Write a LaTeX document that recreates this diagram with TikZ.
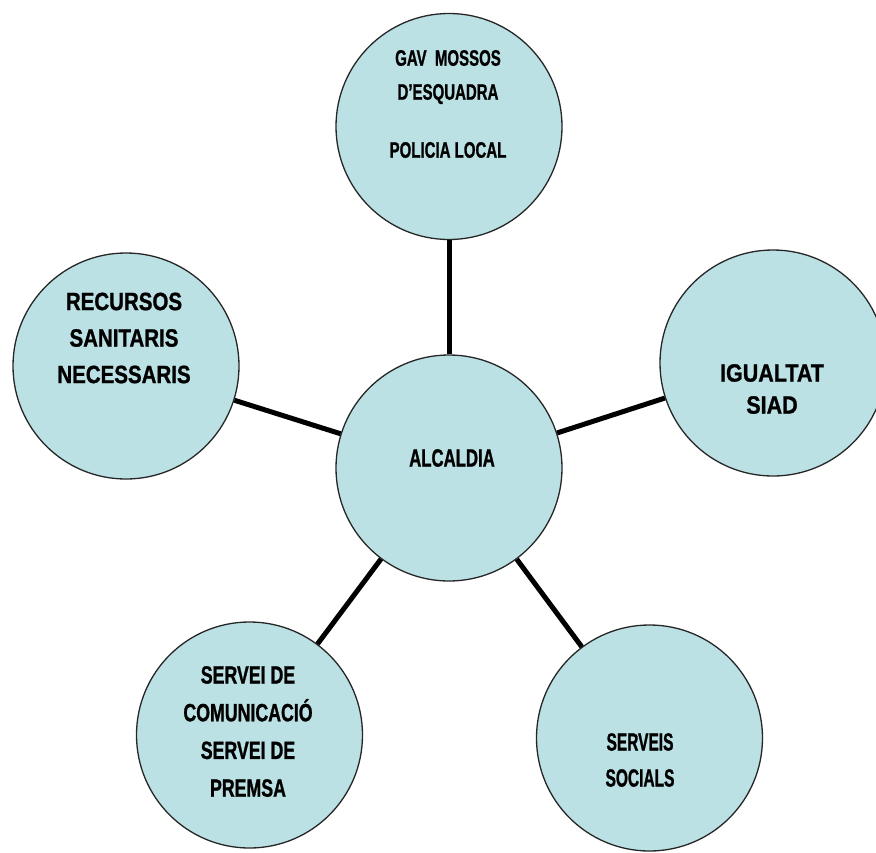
\documentclass[tikz,border=0pt]{standalone}
\usepackage{fontspec}
\setmainfont{Liberation Sans}
\newfontfamily\fTop{Liberation Sans}[FakeStretch=0.67,FakeBold=1]
\newfontfamily\fCen{Liberation Sans}[FakeStretch=0.67,FakeBold=1]
\newfontfamily\fLeft{Liberation Sans}[FakeStretch=0.82,FakeBold=1]
\newfontfamily\fRight{Liberation Sans}[FakeStretch=0.86,FakeBold=1]
\newfontfamily\fBL{Liberation Sans}[FakeStretch=0.71,FakeBold=1]
\newfontfamily\fBR{Liberation Sans}[FakeStretch=0.62,FakeBold=1]
\definecolor{bub}{RGB}{187,225,228}
\begin{document}
\begin{tikzpicture}[x=1pt,y=-1pt,
  bubble/.style={circle,draw=black!85,line width=1.3pt,fill=bub,minimum size=226pt,inner sep=0pt},
  link/.style={line width=5pt,black},
  txt/.style={align=center,inner sep=0pt,text=black}]
\useasboundingbox (0,0) rectangle (876,852);
\clip (0,0) rectangle (876,852);
\node[bubble] (top) at (449,126.5) {};
\node[bubble] (alc) at (449,468) {};
\node[bubble] (lft) at (126,366) {};
\node[bubble] (rgt) at (773,363) {};
\node[bubble] (bl) at (249.5,735) {};
\node[bubble] (br) at (649.5,738) {};
\draw[link] (alc) -- (top);
\draw[link] (alc) -- (lft);
\draw[link] (alc) -- (rgt);
\draw[link] (alc) -- (bl);
\draw[link] (alc) -- (br);
\node[txt,font=\fTop\bfseries\fontsize{22.4}{34}\selectfont] (ttop) at (448,104) {GAV\ \ MOSSOS\\D’ESQUADRA\\[24pt]POLICIA LOCAL};
\node[txt,font=\fCen\bfseries\fontsize{25}{36}\selectfont] (talc) at (452,458) {ALCALDIA};
\node[txt,font=\fLeft\bfseries\fontsize{25}{36.5}\selectfont] (tlft) at (124,338) {RECURSOS\\SANITARIS\\NECESSARIS};
\node[txt,font=\fRight\bfseries\fontsize{25}{32}\selectfont] (trgt) at (772,389) {IGUALTAT\\SIAD};
\node[txt,font=\fBL\bfseries\fontsize{25}{37.7}\selectfont] (tbl) at (248,731.5) {SERVEI DE\\COMUNICACIÓ\\SERVEI DE\\PREMSA};
\node[txt,font=\fBR\bfseries\fontsize{25}{36}\selectfont] (tbr) at (640,760) {SERVEIS\\SOCIALS};
\end{tikzpicture}
\end{document}
